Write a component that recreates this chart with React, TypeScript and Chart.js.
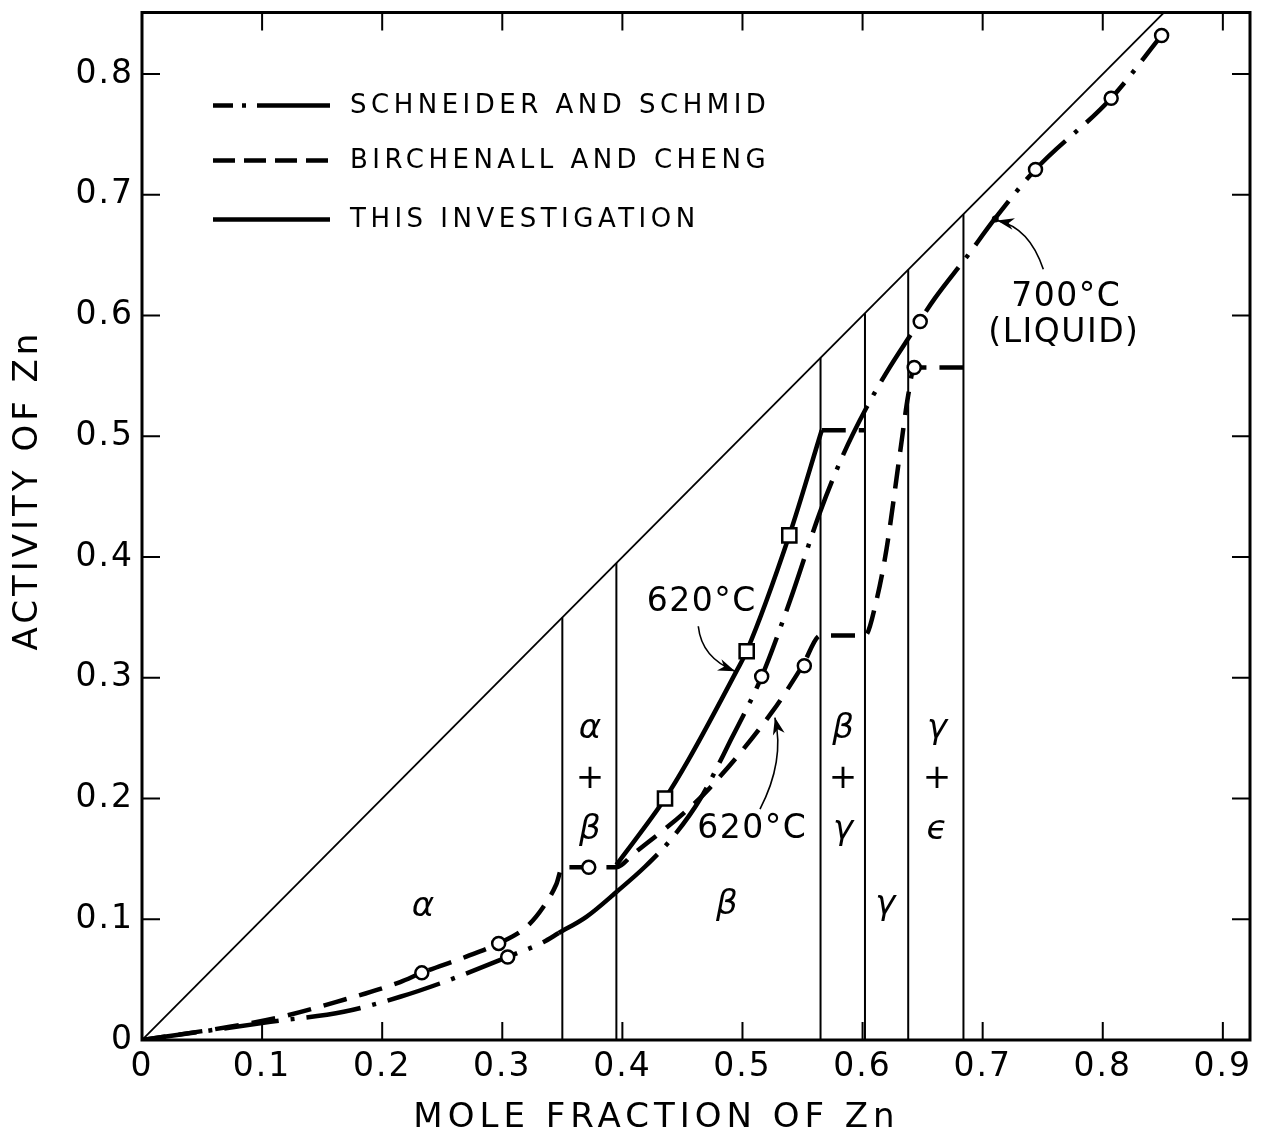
import React, { useEffect, useRef } from "react";
import { Chart, registerables } from "chart.js";

Chart.register(...registerables);

const W = 1263;
const H = 1141;

// axis ranges and ticks
const X_MIN = 0;
const X_MAX = 0.9226;
const Y_MIN = 0;
const Y_MAX = 0.851;
const X_TICKS = [0, 0.1, 0.2, 0.3, 0.4, 0.5, 0.6, 0.7, 0.8, 0.9];
const X_TICK_LABELS = ["0", "0.1", "0.2", "0.3", "0.4", "0.5", "0.6", "0.7", "0.8", "0.9"];
const Y_TICKS = [0, 0.1, 0.2, 0.3, 0.4, 0.5, 0.6, 0.7, 0.8];
const Y_TICK_LABELS = ["0", "0.1", "0.2", "0.3", "0.4", "0.5", "0.6", "0.7", "0.8"];

const X_TITLE = "MOLE FRACTION OF Zn";
const Y_TITLE = "ACTIVITY OF Zn";
const LEGEND_LABELS = ["SCHNEIDER AND SCHMID", "BIRCHENALL AND CHENG", "THIS INVESTIGATION"];

// Raoult's law line
const RAOULT_X = [0, 0.9];
const RAOULT_Y = [0, 0.9];

// phase boundaries (vertical lines from 0 up to the Raoult line)
const PHASE_BOUNDARY_X = [0.35, 0.395, 0.565, 0.602, 0.638, 0.684];

// Schneider and Schmid (dash-dot)
const SS_X = [0, 0.05, 0.107, 0.168, 0.215, 0.248, 0.3045, 0.334, 0.347, 0.37, 0.3955, 0.419, 0.442, 0.465, 0.49, 0.516, 0.54, 0.5645, 0.584, 0.6034, 0.62, 0.64, 0.66, 0.687, 0.71, 0.744, 0.807, 0.849];
const SS_Y = [0, 0.007, 0.015, 0.0234, 0.0358, 0.0468, 0.0688, 0.081, 0.0886, 0.102, 0.123, 0.1437, 0.168, 0.2, 0.248, 0.301, 0.365, 0.437, 0.485, 0.524, 0.553, 0.584, 0.614, 0.649, 0.68, 0.721, 0.78, 0.832];
const SS_PTS_X = [0.3045, 0.516, 0.648, 0.744, 0.807, 0.849];
const SS_PTS_Y = [0.0688, 0.301, 0.595, 0.721, 0.78, 0.832];
const SS_SOLID_FROM = 0.346;
const SS_SOLID_TO = 0.396;

// Birchenall and Cheng (dashed)
const BC_X = [0, 0.073, 0.115, 0.162, 0.215, 0.233, 0.27, 0.297, 0.32, 0.334, 0.345, 0.35, 0.395, 0.409, 0.4535, 0.473, 0.5245, 0.55, 0.565, 0.602, 0.612, 0.62, 0.631, 0.638, 0.643, 0.684];
const BC_Y = [0, 0.011, 0.019, 0.0316, 0.048, 0.0556, 0.069, 0.08, 0.0936, 0.11, 0.129, 0.143, 0.143, 0.154, 0.19, 0.209, 0.2715, 0.31, 0.335, 0.335, 0.366, 0.407, 0.485, 0.534, 0.557, 0.557];
const BC_PTS_X = [0.233, 0.297, 0.372, 0.5515, 0.643];
const BC_PTS_Y = [0.0556, 0.08, 0.143, 0.31, 0.557];

// This investigation (solid)
const TI_X = [0.395, 0.4355, 0.455, 0.495, 0.5035, 0.539, 0.566];
const TI_Y = [0.145, 0.2, 0.232, 0.3055, 0.322, 0.418, 0.505];
const TI_PTS_X = [0.4355, 0.5035, 0.539];
const TI_PTS_Y = [0.2, 0.322, 0.418];
const TI_PLATEAU_X = [0.566, 0.602];
const TI_PLATEAU_Y = [0.505, 0.505];

// annotations (data coordinates)
const FIELD_LABELS = [
  { t: "α", x: 0.234, y: 0.11 },
  { t: "β", x: 0.487, y: 0.1115 },
  { t: "γ", x: 0.619, y: 0.1115 },
];
const TWO_PHASE_X = [0.373, 0.5837, 0.662];
const TWO_PHASE_TEXT = [["α", "+", "β"], ["β", "+", "γ"], ["γ", "+", "ϵ"]];
const TWO_PHASE_ROW_Y = [0.2576, 0.2164, 0.1734];
const TEMP_LABELS = [
  { t: "620°C", x: 0.4655, y: 0.362 },
  { t: "620°C", x: 0.5076, y: 0.1748 },
  { t: "700°C", x: 0.769, y: 0.615 },
  { t: "(LIQUID)", x: 0.767, y: 0.585 },
];
const ARROW_FROM_X = [0.4632, 0.5146, 0.7505];
const ARROW_FROM_Y = [0.3427, 0.1913, 0.6383];
const ARROW_CTRL_X = [0.466, 0.5354, 0.739];
const ARROW_CTRL_Y = [0.3165, 0.2312, 0.673];
const ARROW_TO_X = [0.4938, 0.527, 0.712];
const ARROW_TO_Y = [0.3055, 0.267, 0.6788];
const LIQUID_DOT = { x: 0.7105, y: 0.68 };

const SS_DASH = [55, 12, 4, 12];
const BC_DASH = [24, 13];
const FONT = '"DejaVu Sans", sans-serif';

const xy = (xs: number[], ys: number[]) => xs.map((x, i) => ({ x, y: ys[i] }));

function drawText(ctx: CanvasRenderingContext2D, s: string, x: number, y: number, font: string, spacing: number, align: CanvasTextAlign = "center") {
  ctx.font = font;
  (ctx as any).letterSpacing = spacing + "px";
  ctx.textAlign = align;
  ctx.textBaseline = "middle";
  ctx.fillStyle = "#000";
  ctx.fillText(s, x + (align === "center" ? spacing / 2 : 0), y);
}

const decorPlugin = {
  id: "decor",
  beforeDraw(chart: any) {
    (chart.ctx as any).letterSpacing = "2px";
  },
  afterDraw(chart: any) {
    const ctx: CanvasRenderingContext2D = chart.ctx;
    const a = chart.chartArea;
    const xs = chart.scales.x;
    const ys = chart.scales.y;
    const px = (v: number) => xs.getPixelForValue(v);
    const py = (v: number) => ys.getPixelForValue(v);
    ctx.save();
    ctx.strokeStyle = "#000";
    ctx.fillStyle = "#000";
    ctx.setLineDash([]);
    // frame
    ctx.lineWidth = 3;
    ctx.strokeRect(a.left, a.top, a.right - a.left, a.bottom - a.top);
    // inward ticks on all four sides
    ctx.lineWidth = 2;
    const TL = 18;
    ctx.beginPath();
    xs.ticks.forEach((t: any) => {
      if (t.value === 0) return;
      const p = px(t.value);
      ctx.moveTo(p, a.bottom);
      ctx.lineTo(p, a.bottom - TL);
      ctx.moveTo(p, a.top);
      ctx.lineTo(p, a.top + TL);
    });
    ys.ticks.forEach((t: any) => {
      if (t.value === 0) return;
      const p = py(t.value);
      ctx.moveTo(a.left, p);
      ctx.lineTo(a.left + TL, p);
      ctx.moveTo(a.right, p);
      ctx.lineTo(a.right - TL, p);
    });
    ctx.stroke();

    // axis titles
    drawText(ctx, X_TITLE, 654, 1118, `34px ${FONT}`, 5);
    ctx.save();
    ctx.translate(28, 492);
    ctx.rotate(-Math.PI / 2);
    drawText(ctx, Y_TITLE, 0, 0, `34px ${FONT}`, 4);
    ctx.restore();

    // phase labels
    FIELD_LABELS.forEach((l) => drawText(ctx, l.t, px(l.x), py(l.y), `italic 34px ${FONT}`, 0));
    TWO_PHASE_X.forEach((x, i) => {
      TWO_PHASE_TEXT[i].forEach((t, j) => {
        const f = t === "+" ? `34px ${FONT}` : `italic 34px ${FONT}`;
        drawText(ctx, t, px(x), py(TWO_PHASE_ROW_Y[j]), f, 0);
      });
    });
    TEMP_LABELS.forEach((l) => drawText(ctx, l.t, px(l.x), py(l.y), `33px ${FONT}`, 1.5));

    // arrows
    ARROW_FROM_X.forEach((_, i) => {
      const x0 = px(ARROW_FROM_X[i]), y0 = py(ARROW_FROM_Y[i]);
      const cx = px(ARROW_CTRL_X[i]), cy = py(ARROW_CTRL_Y[i]);
      const x1 = px(ARROW_TO_X[i]), y1 = py(ARROW_TO_Y[i]);
      ctx.lineWidth = 1.6;
      ctx.beginPath();
      ctx.moveTo(x0, y0);
      ctx.quadraticCurveTo(cx, cy, x1, y1);
      ctx.stroke();
      const ang = Math.atan2(y1 - cy, x1 - cx);
      const L = 17, Wd = 6;
      ctx.beginPath();
      ctx.moveTo(x1, y1);
      ctx.lineTo(x1 - L * Math.cos(ang) + Wd * Math.sin(ang), y1 - L * Math.sin(ang) - Wd * Math.cos(ang));
      ctx.lineTo(x1 - L * 0.7 * Math.cos(ang), y1 - L * 0.7 * Math.sin(ang));
      ctx.lineTo(x1 - L * Math.cos(ang) - Wd * Math.sin(ang), y1 - L * Math.sin(ang) + Wd * Math.cos(ang));
      ctx.closePath();
      ctx.fill();
    });
    ctx.beginPath();
    ctx.arc(px(LIQUID_DOT.x), py(LIQUID_DOT.y), 3.5, 0, Math.PI * 2);
    ctx.fill();

    // legend
    const lx0 = a.left + 71, lx1 = a.left + 188, tx = a.left + 208;
    const rows = [a.top + 93, a.top + 148, a.top + 207];
    const dashes = [[20, 9, 4, 11, 200], [22, 9], []];
    rows.forEach((ry, i) => {
      ctx.lineWidth = 4.5;
      ctx.lineCap = "butt";
      ctx.setLineDash(dashes[i]);
      ctx.beginPath();
      ctx.moveTo(lx0, ry);
      ctx.lineTo(lx1, ry);
      ctx.stroke();
      ctx.setLineDash([]);
      drawText(ctx, LEGEND_LABELS[i], tx, ry + 1, `26px ${FONT}`, 4.5, "left");
    });
    ctx.restore();
  },
};

export default function App() {
  const ref = useRef<HTMLCanvasElement>(null);
  useEffect(() => {
    const canvas = ref.current!;
    const curve = {
      showLine: true,
      pointRadius: 0,
      borderColor: "#000",
      borderWidth: 4.5,
      borderCapStyle: "butt" as const,
      cubicInterpolationMode: "monotone" as const,
      fill: false,
    };
    const thin = { showLine: true, pointRadius: 0, borderColor: "#000", borderWidth: 2, fill: false };
    const marker = {
      showLine: false,
      pointBackgroundColor: "#fff",
      pointBorderColor: "#000",
      pointBorderWidth: 2.5,
    };
    const datasets: any[] = [
      { label: "TI points", data: xy(TI_PTS_X, TI_PTS_Y), ...marker, pointStyle: "rect", pointRadius: 10 },
      { label: "SS points", data: xy(SS_PTS_X, SS_PTS_Y), ...marker, pointStyle: "circle", pointRadius: 6.5 },
      { label: "BC points", data: xy(BC_PTS_X, BC_PTS_Y), ...marker, pointStyle: "circle", pointRadius: 6.5 },
      { label: LEGEND_LABELS[2], data: xy(TI_X, TI_Y), ...curve },
      { label: "TI plateau", data: xy(TI_PLATEAU_X, TI_PLATEAU_Y), ...curve, borderDash: BC_DASH },
      {
        label: LEGEND_LABELS[0],
        data: xy(SS_X, SS_Y),
        ...curve,
        borderDash: SS_DASH,
        segment: {
          borderDash: (c: any) =>
            c.p0.parsed.x >= SS_SOLID_FROM && c.p1.parsed.x <= SS_SOLID_TO ? [] : undefined,
        },
      },
      { label: LEGEND_LABELS[1], data: xy(BC_X, BC_Y), ...curve, borderDash: BC_DASH },
      { label: "Raoult", data: xy(RAOULT_X, RAOULT_Y), ...thin, borderWidth: 1.8 },
      ...PHASE_BOUNDARY_X.map((b) => ({ label: "boundary", data: [{ x: b, y: 0 }, { x: b, y: b }], ...thin })),
    ];
    const chart = new Chart(canvas, {
      type: "scatter",
      data: { datasets },
      options: {
        animation: false,
        responsive: false,
        devicePixelRatio: 1,
        events: [],
        layout: { padding: { left: 0, top: 6, right: 13, bottom: 0 } },
        plugins: { legend: { display: false }, tooltip: { enabled: false } },
        scales: {
          x: {
            type: "linear",
            min: X_MIN,
            max: X_MAX,
            grid: { display: false, drawTicks: false },
            border: { display: false },
            afterBuildTicks: (s: any) => {
              s.ticks = X_TICKS.map((value) => ({ value }));
            },
            afterFit: (s: any) => {
              s.height = 101;
              s.paddingLeft = 0;
              s.paddingRight = 0;
            },
            ticks: {
              color: "#000",
              font: { size: 33, family: FONT },
              padding: 8,
              maxRotation: 0,
              autoSkip: false,
              callback: (_v: any, i: number) => X_TICK_LABELS[i],
            },
          },
          y: {
            type: "linear",
            min: Y_MIN,
            max: Y_MAX,
            grid: { display: false, drawTicks: false },
            border: { display: false },
            afterBuildTicks: (s: any) => {
              s.ticks = Y_TICKS.map((value) => ({ value }));
            },
            afterFit: (s: any) => {
              s.width = 142;
              s.paddingTop = 0;
              s.paddingBottom = 0;
            },
            ticks: {
              color: "#000",
              font: { size: 33, family: FONT },
              padding: 8,
              autoSkip: false,
              callback: (_v: any, i: number) => Y_TICK_LABELS[i],
            },
          },
        },
      },
      plugins: [decorPlugin],
    } as any);
    return () => chart.destroy();
  }, []);
  return (
    <div style={{ position: "fixed", left: 0, top: 0, width: W, height: H, background: "#fff" }}>
      <canvas ref={ref} width={W} height={H} style={{ width: W, height: H, display: "block" }} />
    </div>
  );
}
